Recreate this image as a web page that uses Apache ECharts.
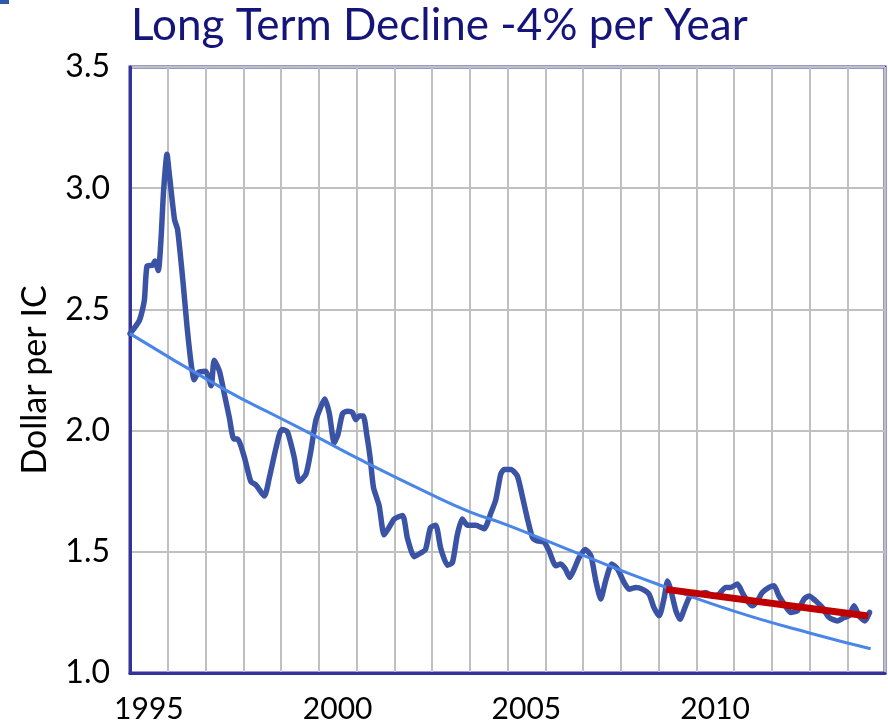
<!DOCTYPE html>
<html>
<head>
<meta charset="utf-8">
<script src="https://cdn.jsdelivr.net/npm/echarts@6/dist/echarts.min.js"></script>
<style>
  html, body { margin: 0; padding: 0; background: #fff; }
  #main { width: 888px; height: 725px; }
</style>
</head>
<body>
<div id="main"></div>
<script>
// year categories shown along the bottom (label sits in the middle of each year)
var years = ['1995','1996','1997','1998','1999','2000','2001','2002','2003','2004',
             '2005','2006','2007','2008','2009','2010','2011','2012','2013','2014'];
var yTicks = [1.0, 1.5, 2.0, 2.5, 3.0, 3.5];

// dollar per IC (x = decimal year)
var priceYears = [
  1995.00,1995.25,1995.38,1995.45,1995.60,1995.66,1995.75,1995.82,1995.89,1995.98,
  1996.04,1996.18,1996.26,1996.40,1996.51,1996.62,1996.70,1996.81,1997.00,1997.15,
  1997.23,1997.37,1997.50,1997.63,1997.75,1997.85,1998.03,1998.20,1998.34,1998.56,
  1998.69,1998.87,1999.02,1999.17,1999.35,1999.48,1999.66,1999.79,1999.92,2000.06,
  2000.16,2000.28,2000.41,2000.51,2000.63,2000.76,2000.89,2000.98,2001.07,2001.18,
  2001.27,2001.36,2001.45,2001.60,2001.73,2001.86,2002.00,2002.22,2002.35,2002.53,
  2002.70,2002.83,2002.96,2003.10,2003.23,2003.41,2003.54,2003.67,2003.80,2003.94,
  2004.16,2004.38,2004.56,2004.69,2004.82,2004.91,2005.09,2005.26,2005.40,2005.53,
  2005.66,2005.79,2005.97,2006.10,2006.28,2006.41,2006.53,2006.65,2006.77,2006.90,
  2007.06,2007.21,2007.34,2007.47,2007.60,2007.76,2007.91,2008.09,2008.22,2008.40,
  2008.57,2008.75,2008.88,2009.02,2009.15,2009.24,2009.32,2009.46,2009.57,2009.70,
  2009.81,2009.94,2010.07,2010.25,2010.43,2010.60,2010.78,2010.91,2011.09,2011.22,
  2011.35,2011.49,2011.62,2011.75,2011.93,2012.06,2012.19,2012.33,2012.50,2012.68,
  2012.86,2012.99,2013.16,2013.34,2013.52,2013.74,2013.92,2014.05,2014.18,2014.31,
  2014.47,2014.59
];
var priceValues = [
  2.40,2.455,2.537,2.678,2.682,2.70,2.66,2.786,2.99,3.14,
  3.06,2.87,2.83,2.62,2.43,2.275,2.21,2.24,2.245,2.185,
  2.29,2.245,2.15,2.055,1.965,1.965,1.89,1.79,1.775,1.73,
  1.805,1.93,2.005,1.995,1.89,1.79,1.82,1.915,2.04,2.10,
  2.13,2.07,1.95,1.985,2.07,2.08,2.075,2.045,2.06,2.06,
  1.985,1.89,1.765,1.69,1.57,1.60,1.635,1.65,1.555,1.48,
  1.495,1.51,1.60,1.61,1.515,1.445,1.455,1.57,1.635,1.61,
  1.61,1.595,1.66,1.715,1.82,1.84,1.84,1.813,1.724,1.635,
  1.56,1.545,1.54,1.504,1.442,1.45,1.43,1.394,1.43,1.477,
  1.51,1.483,1.38,1.305,1.38,1.45,1.43,1.373,1.346,1.353,
  1.346,1.325,1.27,1.236,1.31,1.38,1.346,1.257,1.222,1.27,
  1.31,1.332,1.325,1.332,1.318,1.325,1.353,1.353,1.367,1.332,
  1.298,1.277,1.298,1.332,1.353,1.36,1.318,1.284,1.25,1.257,
  1.305,1.318,1.298,1.27,1.229,1.215,1.229,1.236,1.277,1.236,
  1.215,1.25
];

// long term trend line (light blue)
var trendYears  = [1995.0, 1997.5, 1999.0, 2000.0, 2001.1, 2003.0, 2004.0, 2005.0, 2007.0, 2009.0, 2011.0, 2013.0, 2014.62];
var trendValues = [2.40,   2.17,   2.05,   1.97,   1.88,   1.735,  1.665,  1.61,   1.485,  1.365,  1.255,  1.165,  1.10];

// recent trend (red)
var recentYears  = [2009.2, 2014.55];
var recentValues = [1.345, 1.235];

function pairs(xs, ys) {
  var out = [];
  for (var i = 0; i < xs.length; i++) out.push([xs[i], ys[i]]);
  return out;
}

var myChart = echarts.init(document.getElementById('main'));

var option = {
  backgroundColor: '#fff',
  animation: false,
  textStyle: { fontFamily: 'Lato' },
  title: {
    text: 'Long Term Decline -4% per Year',
    left: 126,
    top: -1,
    textStyle: { color: '#14147a', fontSize: 44, fontWeight: 'normal', fontFamily: 'Lato' }
  },
  graphic: [
    { type: 'rect', left: 0, top: 0, shape: { width: 9, height: 4 }, style: { fill: '#2f5aa8' } }
  ],
  grid: {
    left: 130, right: 3, top: 67, bottom: 52,
    show: true,
    borderColor: '#333399',
    borderWidth: 3
  },
  xAxis: [
    {
      type: 'category',
      data: years,
      boundaryGap: true,
      axisLine: { show: true, lineStyle: { color: '#333399', width: 3 } },
      axisTick: { show: false },
      axisLabel: { interval: 4, color: '#000', fontSize: 30, margin: 21 },
      splitLine: { show: true, interval: 0, lineStyle: { color: '#c0c0c0', width: 2 } }
    },
    {
      type: 'value',
      min: 1995,
      max: 2015,
      show: false
    }
  ],
  yAxis: {
    type: 'value',
    min: yTicks[0],
    max: yTicks[yTicks.length - 1],
    interval: 0.5,
    name: 'Dollar per IC',
    nameLocation: 'middle',
    nameGap: 78,
    nameTextStyle: { color: '#000', fontSize: 34, padding: [0, 20, 0, 0] },
    axisLine: { show: true, lineStyle: { color: '#333399', width: 3 } },
    axisTick: { show: false },
    axisLabel: {
      color: '#000', fontSize: 32, margin: 20,
      formatter: function (v) { return v.toFixed(1); }
    },
    splitLine: { show: true, lineStyle: { color: '#c0c0c0', width: 2 } }
  },
  series: [
    {
      name: 'price',
      type: 'line',
      xAxisIndex: 1,
      data: pairs(priceYears, priceValues),
      smooth: 0.2,
      showSymbol: false,
      lineStyle: { color: '#3a53a4', width: 5.5, join: 'round', cap: 'round' },
      z: 3
    },
    {
      name: 'trend',
      type: 'line',
      xAxisIndex: 1,
      data: pairs(trendYears, trendValues),
      smooth: true,
      showSymbol: false,
      lineStyle: { color: '#4a86e8', width: 3 },
      z: 4
    },
    {
      name: 'recent',
      type: 'line',
      xAxisIndex: 1,
      data: pairs(recentYears, recentValues),
      showSymbol: false,
      lineStyle: { color: '#c00000', width: 7 },
      z: 5
    }
  ]
};

myChart.setOption(option);
</script>
</body>
</html>
